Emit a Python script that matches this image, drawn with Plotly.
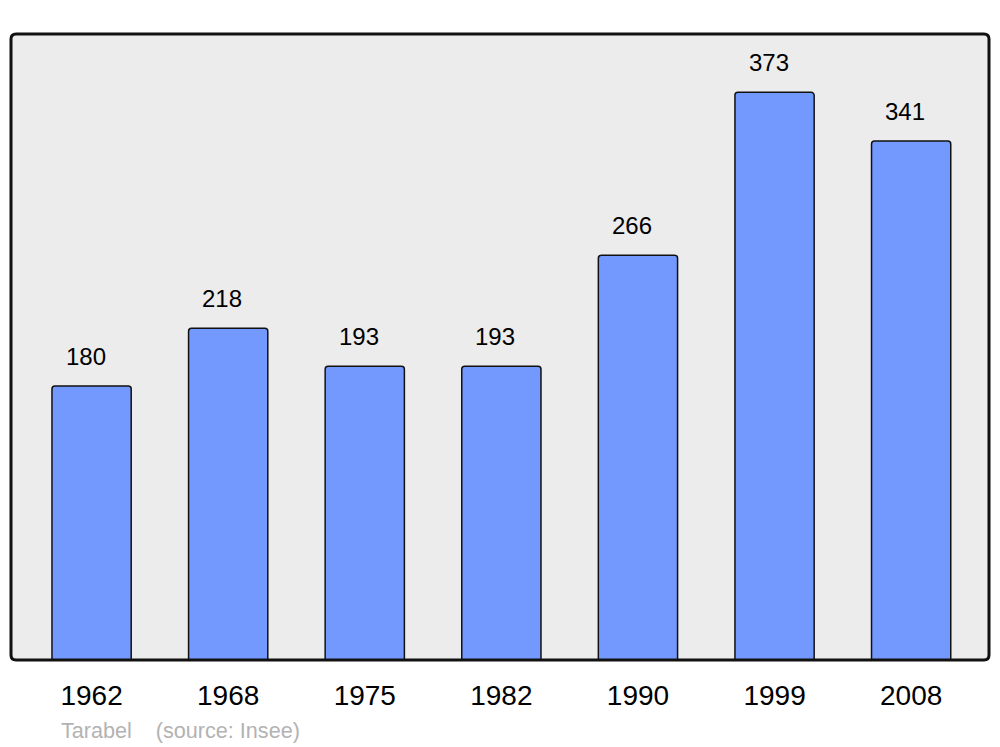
import plotly.graph_objects as go

years = ["1962", "1968", "1975", "1982", "1990", "1999", "2008"]
population = [180, 218, 193, 193, 266, 373, 341]
source_text = "Tarabel    (source: Insee)"

W, H = 1000, 747
ml, mr, mt, mb = 11, 11, 34, 87
pw, ph = W - ml - mr, H - mt - mb

fig = go.Figure()
fig.add_trace(go.Bar(
    x=list(range(len(years))), y=population, width=0.58,
    marker=dict(color="#7399ff", line=dict(color="#111111", width=1.5), cornerradius=3),
    hoverinfo="skip",
))

for i, v in enumerate(population):
    fig.add_annotation(x=i, y=v, text=str(v), showarrow=False, yanchor="bottom",
                       yshift=14, xshift=-6,
                       font=dict(size=24, color="black", family="Liberation Sans, Arial"))

# rounded frame
r = 5
rx, ry = r / pw, r / ph
path = (f"M {rx},0 L {1-rx},0 Q 1,0 1,{ry} L 1,{1-ry} Q 1,1 {1-rx},1 "
        f"L {rx},1 Q 0,1 0,{1-ry} L 0,{ry} Q 0,0 {rx},0 Z")
fig.add_shape(type="path", xref="paper", yref="paper", path=path,
              line=dict(color="#111111", width=3), layer="above")

fig.add_annotation(xref="paper", yref="paper", x=(59 - ml) / pw, y=(mt + ph - 730) / ph,
                   xanchor="left", yanchor="middle", text=source_text, showarrow=False,
                   font=dict(size=21.6, color="#b3b3b3", family="Liberation Sans, Arial"))

fig.update_layout(
    width=W, height=H, margin=dict(l=ml, r=mr, t=mt, b=mb),
    paper_bgcolor="white", plot_bgcolor="#ececec",
    showlegend=False,
    font=dict(family="Liberation Sans, Arial", color="black"),
)
fig.update_xaxes(range=[-0.59, 6.57], tickmode="array", tickvals=list(range(len(years))),
                 ticktext=years, tickfont=dict(size=28), ticks="outside", ticklen=10,
                 tickcolor="rgba(0,0,0,0)", showgrid=False, zeroline=False, showline=False)
fig.update_yaxes(range=[0, 411.3], showticklabels=False, showgrid=False, zeroline=False,
                 showline=False)

fig.write_html("out.html", config={"displayModeBar": False},
               post_script="document.body.style.margin='0';document.body.style.overflow='hidden';")
